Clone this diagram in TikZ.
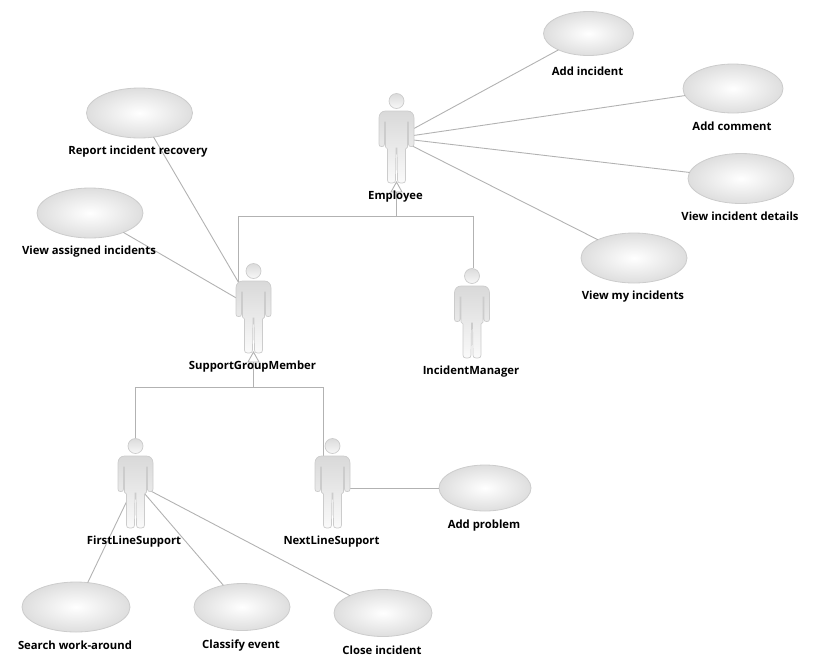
\documentclass[tikz,border=0pt]{standalone}
\usepackage{fontspec}
\setmainfont{Open Sans}
\usetikzlibrary{shapes.geometric,arrows.meta,shadings}
\tikzset{
  x=1pt,y=-1pt,
  usecase/.style={ellipse,draw=black!20,line width=0.8pt,inner color=white,outer color=black!13,inner sep=0,outer sep=0},
  lbl/.style={font=\fontsize{11.3}{13}\selectfont\bfseries,text=black,inner sep=0},
  conn/.style={draw=black!30,line width=0.9pt},
  gen/.style={conn},
  tri/.style={conn},
  actorbox/.style={rectangle,draw=none,minimum width=35pt,minimum height=91pt,inner sep=0,outer sep=0},
  pics/stick/.style={code={
    \shade[top color=black!14,bottom color=black!3,draw=black!20,line width=0.7pt]
      (0,-10) circle[radius=7.5];
    \shade[top color=black!15,bottom color=black!2,draw=black!20,line width=0.7pt]
      (-11,0) -- (11,0) .. controls (15,0) and (17.5,3) .. (17.5,7)
      -- (17.5,33) .. controls (17.5,35) and (16.5,35.5) .. (15,35.5)
      -- (14.5,35.5) .. controls (13,35.5) and (12,35) .. (12,33)
      -- (12,11) -- (11,11) -- (11,36) -- (9,38) -- (9,69)
      .. controls (9,71) and (8,72) .. (6,72) -- (4,72) .. controls (2,72) and (1,71) .. (1,69)
      -- (0.5,37) -- (-0.5,37) -- (-1,69)
      .. controls (-1,71) and (-2,72) .. (-4,72) -- (-6,72) .. controls (-8,72) and (-9,71) .. (-9,69)
      -- (-9,38) -- (-11,36) -- (-11,11) -- (-12,11) -- (-12,33)
      .. controls (-12,35) and (-13,35.5) .. (-14.5,35.5) -- (-15,35.5)
      .. controls (-16.5,35.5) and (-17.5,35) .. (-17.5,33)
      -- (-17.5,7) .. controls (-17.5,3) and (-15,0) .. (-11,0) -- cycle;
  }}
}
\begin{document}
\begin{tikzpicture}
\useasboundingbox (0,0) rectangle (818,670);
% actors (invisible name boxes; drawn figures below)
\node[actorbox] (emp) at (396.5,138) {};
\node[actorbox] (sgm) at (253.5,308) {};
\node[actorbox] (im)  at (472,313) {};
\node[actorbox] (fls) at (135.5,483) {};
\node[actorbox] (nls) at (332.5,483) {};
% use cases
\node[usecase,minimum width=90pt,minimum height=44pt]  (addinc) at (588.5,33.5) {};
\node[usecase,minimum width=100pt,minimum height=49pt] (addcom) at (733,88.5) {};
\node[usecase,minimum width=106pt,minimum height=50pt] (viewdet) at (741,178.5) {};
\node[usecase,minimum width=106pt,minimum height=50pt] (viewmy) at (634,258) {};
\node[usecase,minimum width=106pt,minimum height=50pt] (report) at (139.5,113) {};
\node[usecase,minimum width=106pt,minimum height=50pt] (viewass) at (90,213) {};
\node[usecase,minimum width=92pt,minimum height=46pt]  (addprob) at (485,488) {};
\node[usecase,minimum width=108pt,minimum height=50pt] (search) at (76,607) {};
\node[usecase,minimum width=96pt,minimum height=47pt]  (classify) at (242,607) {};
\node[usecase,minimum width=98pt,minimum height=47pt]  (close) at (383,613) {};
% associations
\draw[conn] (emp.center) -- (addinc);
\draw[conn] (emp.center) -- (addcom);
\draw[conn] (emp.center) -- (viewdet);
\draw[conn] (emp.center) -- (viewmy);
\draw[conn] (sgm.center) -- (report);
\draw[conn] (sgm.center) -- (viewass);
\draw[conn] (fls.center) -- (search);
\draw[conn] (fls.center) -- (classify);
\draw[conn] (fls.center) -- (close);
\draw[conn] (nls.center |- addprob) -- (addprob);
% generalisations
\coordinate (j1) at (396.5,216);
\coordinate (j2) at (253.5,387);
\coordinate (sgmtop) at (238,283);
\coordinate (flstop) at (135.5,438);
\coordinate (nlstop) at (323,458);
\coordinate (imtop) at (473,268);
\coordinate (t1) at (396.5,192);
\coordinate (t2) at (253.5,362);
\draw[gen] (sgmtop) |- (j1);
\draw[gen] (imtop) |- (j1);
\draw[gen] (j1) -- (t1);
\draw[gen] (flstop) |- (j2);
\draw[gen] (nlstop) |- (j2);
\draw[gen] (j2) -- (t2);
% figures
\pic at (396.5,111) {stick};
\pic at (253.5,281) {stick};
\pic at (472,286) {stick};
\pic at (135.5,456) {stick};
\pic at (332.5,456) {stick};
% arrow heads
\draw[tri] (391,192) -- (396.5,182) -- (402,192) -- cycle;
\draw[tri] (248,362) -- (253.5,352) -- (259,362) -- cycle;
% labels
\node[lbl] (l1) at (587.5,71.5) {Add incident};
\node[lbl] (l2) at (732,126.5) {Add comment};
\node[lbl] (l3) at (740,216.5) {View incident details};
\node[lbl] (l4) at (633,296.5) {View my incidents};
\node[lbl] (l5) at (138,151.5) {Report incident recovery};
\node[lbl] (l6) at (89,251.5) {View assigned incidents};
\node[lbl] (l7) at (395.5,196.5) {Employee};
\node[lbl] (l8) at (252.5,366.5) {SupportGroupMember};
\node[lbl] (l9) at (471,371.5) {IncidentManager};
\node[lbl] (l10) at (134,541.5) {FirstLineSupport};
\node[lbl] (l11) at (331.5,541.5) {NextLineSupport};
\node[lbl] (l12) at (484,525.5) {Add problem};
\node[lbl] (l13) at (75,645.5) {Search work-around};
\node[lbl] (l14) at (241,645.5) {Classify event};
\node[lbl] (l15) at (382,650.5) {Close incident};
\end{tikzpicture}
\end{document}
